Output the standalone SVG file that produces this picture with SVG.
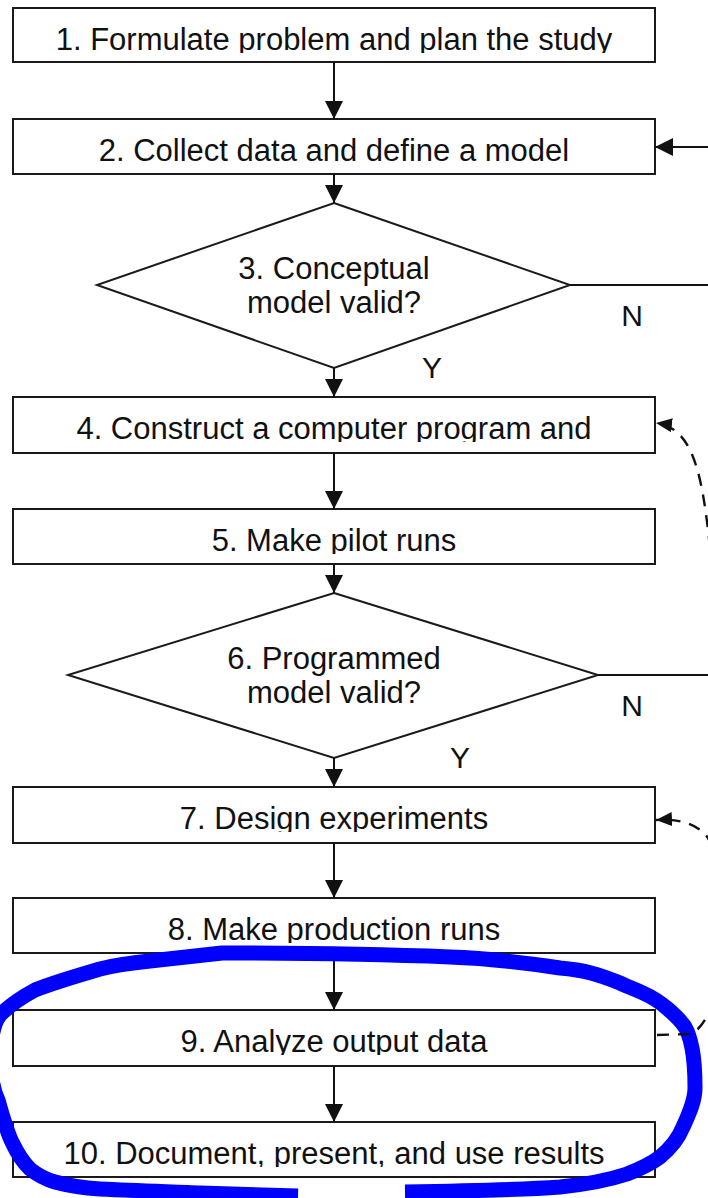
<svg xmlns="http://www.w3.org/2000/svg" width="708" height="1198" viewBox="0 0 708 1198">
  <style>
    .box { fill: #ffffff; stroke: #1a1a1a; stroke-width: 2; }
    .dia { fill: #ffffff; stroke: #1a1a1a; stroke-width: 2; }
    .lbl { font-family: "Liberation Sans", Arial, sans-serif; font-size: 31px; fill: #111111; text-anchor: middle; }
    .yn  { font-family: "Liberation Sans", Arial, sans-serif; font-size: 30px; fill: #111111; text-anchor: middle; }
    .flow { fill: none; stroke: #111111; stroke-width: 2; }
    .loop { fill: none; stroke: #111111; stroke-width: 2.4; stroke-dasharray: 12 9; }
    .mark { fill: none; stroke: #0000ff; stroke-width: 15; stroke-linecap: butt; stroke-linejoin: round; }
  </style>
  <defs>
    <marker id="head" viewBox="0 0 18 18" refX="18" refY="9" markerWidth="18" markerHeight="18" markerUnits="userSpaceOnUse" orient="auto">
      <path d="M0,0 L18,9 L0,18 Z" fill="#111111"/>
    </marker>
    <marker id="headSmall" viewBox="0 0 16 14" refX="16" refY="7" markerWidth="16" markerHeight="14" markerUnits="userSpaceOnUse" orient="auto">
      <path d="M0,0 L16,7 L0,14 Z" fill="#111111"/>
    </marker>
    <!-- box captions are cut just under the baseline -->
    <clipPath id="c1"><rect x="13" y="8" width="642" height="45"/></clipPath>
    <clipPath id="c2"><rect x="13" y="119" width="642" height="45"/></clipPath>
    <clipPath id="c4"><rect x="13" y="397" width="642" height="45"/></clipPath>
    <clipPath id="c5"><rect x="13" y="509" width="642" height="45"/></clipPath>
    <clipPath id="c7"><rect x="13" y="787" width="642" height="45"/></clipPath>
    <clipPath id="c8"><rect x="13" y="898" width="642" height="45"/></clipPath>
    <clipPath id="c9"><rect x="13" y="1010" width="642" height="45"/></clipPath>
    <clipPath id="c10"><rect x="13" y="1122" width="642" height="45"/></clipPath>
  </defs>

  <rect width="708" height="1198" fill="#ffffff"/>

  <g id="step1">
    <rect class="box" x="13" y="8" width="642" height="54"/>
    <text class="lbl" x="334" y="50" clip-path="url(#c1)">1. Formulate problem and plan the study</text>
  </g>
  <g id="step2">
    <rect class="box" x="13" y="119" width="642" height="55"/>
    <text class="lbl" x="334" y="161" clip-path="url(#c2)">2. Collect data and define a model</text>
  </g>
  <g id="step3">
    <polygon class="dia" points="334,203 570,285 334,368 97,285"/>
    <text class="lbl" x="334" y="279">3. Conceptual</text>
    <text class="lbl" x="334" y="313">model valid?</text>
  </g>
  <g id="step4">
    <rect class="box" x="13" y="397" width="642" height="56"/>
    <text class="lbl" x="334" y="439" clip-path="url(#c4)">4. Construct a computer program and</text>
  </g>
  <g id="step5">
    <rect class="box" x="13" y="509" width="642" height="55"/>
    <text class="lbl" x="334" y="551" clip-path="url(#c5)">5. Make pilot runs</text>
  </g>
  <g id="step6">
    <polygon class="dia" points="334,593 598,675 334,758 68,675"/>
    <text class="lbl" x="334" y="669">6. Programmed</text>
    <text class="lbl" x="334" y="703">model valid?</text>
  </g>
  <g id="step7">
    <rect class="box" x="13" y="787" width="642" height="56"/>
    <text class="lbl" x="334" y="829" clip-path="url(#c7)">7. Design experiments</text>
  </g>
  <g id="step8">
    <rect class="box" x="13" y="898" width="642" height="55"/>
    <text class="lbl" x="334" y="940" clip-path="url(#c8)">8. Make production runs</text>
  </g>
  <g id="step9">
    <rect class="box" x="13" y="1010" width="642" height="56"/>
    <text class="lbl" x="334" y="1052" clip-path="url(#c9)">9. Analyze output data</text>
  </g>
  <g id="step10">
    <rect class="box" x="13" y="1122" width="642" height="55"/>
    <text class="lbl" x="334" y="1164" clip-path="url(#c10)">10. Document, present, and use results</text>
  </g>

  <g id="connectors">
    <line class="flow" x1="334" y1="62" x2="334" y2="119" marker-end="url(#head)"/>
    <line class="flow" x1="334" y1="174" x2="334" y2="203" marker-end="url(#head)"/>
    <line class="flow" x1="334" y1="368" x2="334" y2="397" marker-end="url(#head)"/>
    <line class="flow" x1="334" y1="453" x2="334" y2="509" marker-end="url(#head)"/>
    <line class="flow" x1="334" y1="564" x2="334" y2="593" marker-end="url(#head)"/>
    <line class="flow" x1="334" y1="758" x2="334" y2="787" marker-end="url(#head)"/>
    <line class="flow" x1="334" y1="843" x2="334" y2="898" marker-end="url(#head)"/>
    <line class="flow" x1="334" y1="953" x2="334" y2="1010" marker-end="url(#head)"/>
    <line class="flow" x1="334" y1="1066" x2="334" y2="1122" marker-end="url(#head)"/>
    <!-- "N" branches leave to the right, return into step 2 -->
    <line class="flow" x1="570" y1="285" x2="710" y2="285"/>
    <line class="flow" x1="598" y1="675" x2="710" y2="675"/>
    <line class="flow" x1="710" y1="147" x2="655" y2="147" marker-end="url(#head)"/>
    <!-- dashed return loops -->
    <path class="loop" d="M710,548 C702,470 692,428 656,423" marker-end="url(#headSmall)"/>
    <path class="loop" d="M712,846 C706,830 690,818 656,820" marker-end="url(#headSmall)"/>
    <text class="yn" x="632" y="326">N</text>
    <text class="yn" x="432" y="378">Y</text>
    <text class="yn" x="632" y="716">N</text>
    <text class="yn" x="460" y="768">Y</text>
  </g>

  <g id="highlight">
    <path class="mark" d="M405,1192 C470,1191 520,1190 560,1187 C590,1184 612,1179 627,1174 C640,1169 652,1163 660,1157 C672,1147 679,1137 683,1127 C690,1112 695,1100 695,1088 C695,1070 694,1058 692,1048 C690,1038 688,1032 685,1027 C681,1021 676,1016 668,1009 C660,1002 652,997 643,993 C632,988 626,986 620,983 C600,975 585,970 560,968 C520,962 480,958 450,957 C400,955 300,953 222,953 L150,961 C130,963 115,965 100,969 C80,975 55,982 35,990 C22,997 10,1005 0,1015 C-12,1030 -12,1080 -2,1100 C3,1118 7,1132 12,1142 C18,1155 24,1163 30,1169 C40,1177 48,1180 55,1182 C70,1186 85,1188 100,1189 C140,1191 180,1192 200,1193 C240,1194 270,1195 298,1196"/>
  </g>

  <g id="loop-from-step9">
    <path class="loop" d="M657,1035 L690,1034 C700,1030 706,1020 712,1005"/>
  </g>
</svg>
